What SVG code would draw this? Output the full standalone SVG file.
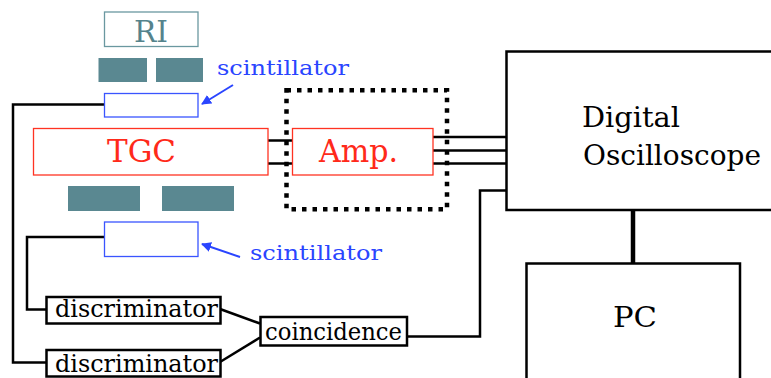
<svg xmlns="http://www.w3.org/2000/svg" width="771" height="378" viewBox="0 0 771 378">
<style>
  text { font-family: "DejaVu Serif", "Liberation Serif", serif; }
  .teal { fill: #5a8891; }
  .outline-teal { fill: #fff; stroke: #6a98a0; stroke-width: 1.3; }
  .outline-blue { fill: #fff; stroke: #3a55ff; stroke-width: 1.3; }
  .outline-red { fill: #fff; stroke: #ff3322; stroke-width: 1.3; }
  .outline-black { fill: #fff; stroke: #000; stroke-width: 2.5; }
  .wire { fill: none; stroke: #000; stroke-width: 2.5; }
  .arrow { fill: none; stroke: #2a45ff; stroke-width: 2; marker-end: url(#ah); }
  .lbl-blue { fill: #2a45ff; font-size: 21px; }
  .lbl-red { fill: #ff2a1a; font-size: 32px; }
  .lbl-black { fill: #000; font-size: 24px; }
  .lbl-big { fill: #000; font-size: 28px; }
</style>
<defs>
  <marker id="ah" viewBox="0 0 10 10" refX="9" refY="5" markerWidth="5" markerHeight="5" orient="auto" markerUnits="strokeWidth">
    <path d="M0,0 L10,5 L0,10 Z" fill="#2a45ff"/>
  </marker>
</defs>

<g id="connectors">
  <polyline class="wire" points="107,104.5 13,104.5 13,362.5 46,362.5"/>
  <polyline class="wire" points="107,237 27,237 27,309.5 46,309.5"/>
  <line class="wire" x1="220" y1="309" x2="260" y2="323.5"/>
  <line class="wire" x1="220" y1="362" x2="260" y2="337.5"/>
  <polyline class="wire" points="407,336.5 480,336.5 480,190.5 506,190.5"/>
  <line class="wire" x1="268" y1="140.5" x2="292" y2="140.5"/>
  <line class="wire" x1="268" y1="163.5" x2="292" y2="163.5"/>
  <line class="wire" x1="433" y1="137" x2="506" y2="137"/>
  <line class="wire" x1="433" y1="150.5" x2="506" y2="150.5"/>
  <line class="wire" x1="433" y1="163.5" x2="506" y2="163.5"/>
  <line x1="633" y1="210" x2="633" y2="263" stroke="#000" stroke-width="4.5"/>
  <line class="arrow" x1="233" y1="85" x2="202" y2="104"/>
  <line class="arrow" x1="240" y1="257" x2="202" y2="244"/>
</g>

<g id="ri">
  <rect class="outline-teal" x="104.5" y="12" width="93.5" height="34.5"/>
  <text x="134" y="42" font-size="30" textLength="34" lengthAdjust="spacingAndGlyphs" fill="#55838c">RI</text>
</g>

<g id="absorbers-top">
  <rect class="teal" x="98.5" y="58" width="48.5" height="24"/>
  <rect class="teal" x="156" y="58" width="47" height="24"/>
</g>

<g id="scintillator-top">
  <rect class="outline-blue" x="104.5" y="93.5" width="93.5" height="23.5"/>
</g>
<g id="scintillator-top-label">
  <text class="lbl-blue" x="217" y="75" textLength="132" lengthAdjust="spacingAndGlyphs">scintillator</text>
</g>

<g id="tgc">
  <rect class="outline-red" x="33.5" y="128.5" width="234.5" height="46.5"/>
  <text class="lbl-red" x="107" y="162" textLength="69" lengthAdjust="spacingAndGlyphs">TGC</text>
</g>

<g id="absorbers-bottom">
  <rect class="teal" x="68" y="186" width="72" height="25"/>
  <rect class="teal" x="162" y="186" width="72" height="25"/>
</g>

<g id="scintillator-bottom">
  <rect class="outline-blue" x="104.5" y="222" width="93.5" height="34.5"/>
</g>
<g id="scintillator-bottom-label">
  <text class="lbl-blue" x="250" y="260" textLength="132" lengthAdjust="spacingAndGlyphs">scintillator</text>
</g>

<g id="amp-enclosure">
  <rect x="286.5" y="90.3" width="160.5" height="119" fill="none" stroke="#000" stroke-width="4.5" stroke-dasharray="4.5 6"/>
</g>

<g id="amp">
  <rect class="outline-red" x="292.5" y="128.5" width="140.5" height="46.5"/>
  <text class="lbl-red" x="319" y="162" textLength="79" lengthAdjust="spacingAndGlyphs">Amp.</text>
</g>

<g id="oscilloscope">
  <path class="outline-black" d="M771,51.5 H506.5 V210 H771"/>
  <text class="lbl-big" x="582" y="127" textLength="98" lengthAdjust="spacingAndGlyphs">Digital</text>
  <text class="lbl-big" x="583" y="165" textLength="178" lengthAdjust="spacingAndGlyphs">Oscilloscope</text>
</g>

<g id="pc">
  <path class="outline-black" d="M526.5,378 V263.5 H740 V378"/>
  <text class="lbl-big" x="613" y="327" textLength="44" lengthAdjust="spacingAndGlyphs">PC</text>
</g>

<g id="discriminator-1">
  <rect class="outline-black" x="46.5" y="297" width="174" height="26.5"/>
  <text class="lbl-black" x="55" y="317" textLength="163" lengthAdjust="spacingAndGlyphs">discriminator</text>
</g>

<g id="discriminator-2">
  <rect class="outline-black" x="46.5" y="350" width="174" height="26.5"/>
  <text class="lbl-black" x="55" y="372" textLength="163" lengthAdjust="spacingAndGlyphs">discriminator</text>
</g>

<g id="coincidence">
  <rect class="outline-black" x="260.5" y="317" width="146.5" height="28.5"/>
  <text class="lbl-black" x="265" y="340" textLength="137" lengthAdjust="spacingAndGlyphs">coincidence</text>
</g>
</svg>
